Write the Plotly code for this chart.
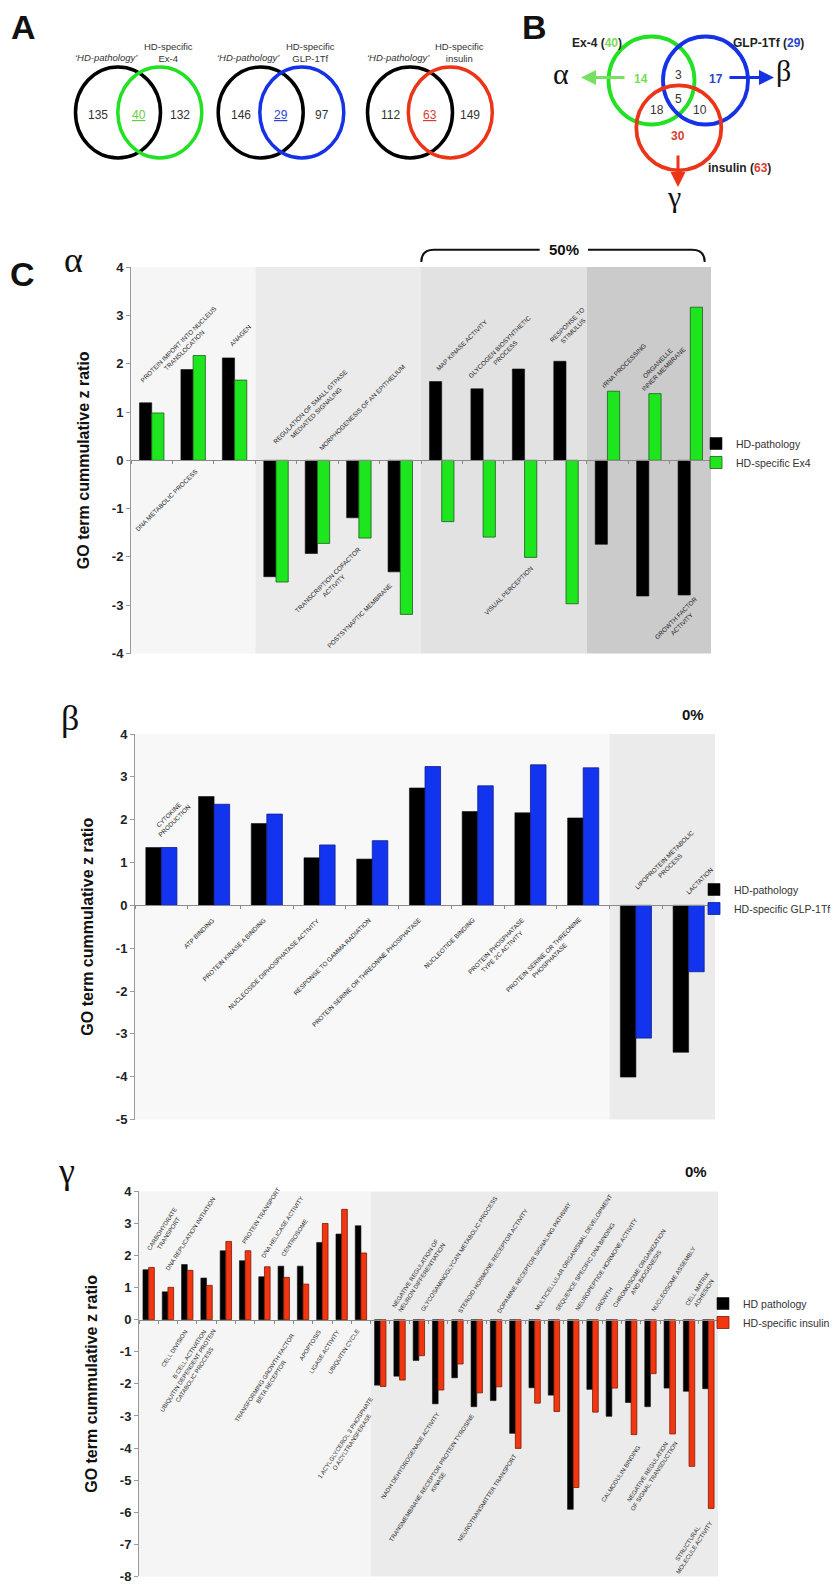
import plotly.graph_objects as go

W, H = 840, 1590


def fx(p):
    return p / W


def fy(p):
    return 1 - p / H


# ---------------- data ----------------
alpha_terms = [
    "PROTEIN IMPORT INTO NUCLEUS<br>TRANSLOCATION", "DNA METABOLIC PROCESS", "ANAGEN",
    "REGULATION OF SMALL GTPASE<br>MEDIATED SIGNALING", "MORPHOGENESIS OF AN EPITHELIUM",
    "TRANSCRIPTION COFACTOR<br>ACTIVITY", "POSTSYNAPTIC MEMBRANE",
    "MAP KINASE ACTIVITY", "GLYCOGEN BIOSYNTHETIC<br>PROCESS", "VISUAL PERCEPTION",
    "RESPONSE TO<br>STIMULUS", "rRNA PROCESSING", "ORGANELLE<br>INNER MEMBRANE",
    "GROWTH FACTOR<br>ACTIVITY",
]
alpha_hd_pathology = [1.19, 1.88, 2.12, -2.41, -1.93, -1.19, -2.31, 1.63, 1.48, 1.89, 2.05, -1.74, -2.81, -2.79]
alpha_hd_ex4 = [0.98, 2.17, 1.66, -2.52, -1.72, -1.61, -3.19, -1.27, -1.59, -2.01, -2.97, 1.43, 1.38, 3.17]

beta_terms = [
    "CYTOKINE<br>PRODUCTION", "ATP BINDING", "PROTEIN KINASE A BINDING",
    "NUCLEOSIDE DIPHOSPHATASE ACTIVITY", "RESPONSE TO GAMMA RADIATION",
    "PROTEIN SERINE OR THREONINE PHOSPHATASE", "NUCLEOTIDE BINDING",
    "PROTEIN PHOSPHATASE<br>TYPE 2C ACTIVITY", "PROTEIN SERINE OR THREONINE<br>PHOSPHATASE",
    "LIPOPROTEIN METABOLIC<br>PROCESS", "LACTATION",
]
beta_hd_pathology = [1.35, 2.54, 1.91, 1.11, 1.08, 2.74, 2.19, 2.16, 2.04, -4.01, -3.43]
beta_hd_glp1tf = [1.35, 2.36, 2.13, 1.41, 1.51, 3.24, 2.79, 3.28, 3.21, -3.10, -1.55]

gamma_terms = [
    "CARBOHYDRATE<br>TRANSPORT", "DNA REPLICATION INITIATION", "CELL DIVISION", "B CELL ACTIVATION",
    "UBIQUITIN DEPENDENT PROTEIN<br>CATABOLIC PROCESS", "PROTEIN TRANSPORT", "DNA HELICASE ACTIVITY",
    "CENTROSOME", "TRANSFORMING GROWTH FACTOR<br>BETA RECEPTOR", "APOPTOSIS", "LIGASE ACTIVITY",
    "UBIQUITIN CYCLE", "1 ACYLGLYCEROL 3 PHOSPHATE<br>O ACYLTRANSFERASE",
    "NEGATIVE REGULATION OF<br>NEURON DIFFERENTIATION", "GLYCOSAMINOGLYCAN METABOLIC PROCESS",
    "NADH DEHYDROGENASE ACTIVITY", "STEROID HORMONE RECEPTOR ACTIVITY",
    "TRANSMEMBRANE RECEPTOR PROTEIN TYROSINE<br>KINASE", "DOPAMINE RECEPTOR SIGNALING PATHWAY",
    "NEUROTRANSMITTER TRANSPORT", "MULTICELLULAR ORGANISMAL DEVELOPMENT",
    "SEQUENCE SPECIFIC DNA BINDING", "NEUROPEPTIDE HORMONE ACTIVITY", "GROWTH",
    "CHROMOSOME ORGANIZATION<br>AND BIOGENESIS", "CALMODULIN BINDING", "NUCLEOSOME ASSEMBLY",
    "NEGATIVE REGULATION<br>OF SIGNAL TRANSDUCTION", "CELL MATRIX<br>ADHESION",
    "STRUCTURAL<br>MOLECULE ACTIVITY",
]
gamma_hd_pathology = [1.56, 0.87, 1.72, 1.30, 2.15, 1.84, 1.34, 1.67, 1.67, 2.41, 2.67, 2.93,
                      -2.04, -1.76, -1.27, -2.62, -1.81, -2.71, -2.52, -3.54, -2.12, -2.35, -5.91,
                      -2.17, -3.01, -2.58, -2.71, -2.13, -2.23, -2.15]
gamma_hd_insulin = [1.63, 1.01, 1.54, 1.07, 2.44, 2.15, 1.65, 1.32, 1.11, 3.00, 3.44, 2.08,
                    -2.08, -1.88, -1.12, -2.19, -1.38, -2.28, -2.09, -4.01, -2.60, -2.86, -5.23,
                    -2.88, -2.13, -3.58, -1.68, -3.56, -4.57, -5.88]

# Venn counts (panel A)
venn_names = ["Ex-4", "GLP-1Tf", "insulin"]
venn_pathology_only = [135, 146, 112]
venn_shared = [40, 29, 63]
venn_specific_only = [132, 97, 149]
# Venn counts (panel B)
venn_b_totals = [40, 29, 63]
venn_b_regions = [14, 3, 17, 5, 18, 10, 30]  # Ex4 only, Ex4&GLP, GLP only, all, Ex4&ins, GLP&ins, ins only

# ---------------- label placement (layout) ----------------
alpha_lab_side = ['a', 'b', 'a', 'a', 'a', 'b', 'b', 'a', 'a', 'b', 'a', 'a', 'a', 'b']
alpha_lab_dx = [-16, 7.6, -9.3, -7, -2.7, 11.8, -4.6, -9.4, -19, 12.7, -20.3, -10, -17, 16.7]
alpha_lab_y = [1.41, -0.10, 2.27, 0.15, 0.12, -1.71, -2.45, 1.77, 1.50, -2.11, 2.24, 1.41, 1.36, -2.73]

beta_lab_side = ['a', 'b', 'b', 'b', 'b', 'b', 'b', 'b', 'b', 'a', 'a']
beta_lab_dx = [-13.4, 3.9, 2.9, 4.5, 2.4, -0.3, 1.9, 3.5, 7.5, -5.3, -6.7]
beta_lab_y = [1.51, -0.2, -0.2, -0.2, -0.2, -0.2, -0.18, -0.2, -0.18, 0.15, 0.17]

gamma_lab_side = ['a', 'a', 'b', 'b', 'b', 'a', 'a', 'a', 'b', 'b', 'b', 'b', 'b', 'a', 'a',
                  'b', 'a', 'b', 'a', 'b', 'a', 'a', 'a', 'a', 'a', 'b', 'a', 'b', 'a', 'b']
gamma_lab_dx = [-5.6, -6, 4.7, 4, 0.5, -7, -7, -6.4, 1.6, 3, 1.3, 2, 3.4, -12, -2,
                4.8, -3.5, 8, -3, 5.3, -4, -2.6, -1.3, -1.2, -2.2, 12.9, -3, 12.3, -7.7, 8]
gamma_lab_y = [1.92, 1.40, -0.19, -0.19, -0.19, 2.24, 1.82, 1.85, -0.31, -0.2, -0.2, -0.19,
               -2.29, 0.11, 0.16, -2.77, 0.10, -2.84, 0.07, -4.08, 0.16, 0.16, 0.17, 0.16,
               0.13, -3.81, 0.15, -3.56, 0.19, -6.06]

FONT = "Liberation Sans, Arial, sans-serif"
SERIF = "Liberation Serif, Times New Roman, serif"

fig = go.Figure()
shapes = []
annotations = []
layout_extra = {}


def add_panel(n, terms, v1, v2, name1, name2, c2, e2, xl, xr, ytop, ybot, yrange, sections,
              lab_side, lab_dx, lab_y, angle, lab_size, legend_xy):
    xa = 'x' if n == 1 else 'x%d' % n
    ya = 'y' if n == 1 else 'y%d' % n
    leg = 'legend' if n == 1 else 'legend%d' % n
    fig.add_trace(go.Bar(x=terms, y=v1, name=name1, xaxis=xa, yaxis=ya, legend=leg,
                         marker=dict(color='#000000', line=dict(color='#111111', width=0.6))))
    fig.add_trace(go.Bar(x=terms, y=v2, name=name2, xaxis=xa, yaxis=ya, legend=leg,
                         marker=dict(color=c2, line=dict(color=e2, width=0.8))))
    ydom = [fy(ybot), fy(ytop)]
    zero = ydom[0] + (0 - yrange[0]) / (yrange[1] - yrange[0]) * (ydom[1] - ydom[0])
    xkey = 'xaxis' if n == 1 else 'xaxis%d' % n
    ykey = 'yaxis' if n == 1 else 'yaxis%d' % n
    layout_extra[xkey] = dict(
        domain=[fx(xl), fx(xr)], anchor='free', position=zero, type='category',
        range=[-0.5, len(terms) - 0.5], showline=True, linecolor='#8a8a8a', linewidth=1,
        ticks='outside', ticklen=3, tickcolor='#8a8a8a', tickson='boundaries',
        showticklabels=False, showgrid=False, zeroline=False, fixedrange=True)
    tv = list(range(int(yrange[0]), int(yrange[1]) + 1))
    layout_extra[ykey] = dict(
        domain=ydom, anchor=xa, range=yrange, tickvals=tv, ticktext=[str(t) for t in tv],
        showline=True, linecolor='#9a9a9a', linewidth=1, ticks='outside', ticklen=4,
        tickcolor='#9a9a9a', showgrid=False, zeroline=False,
        tickfont=dict(family=FONT, size=13, color='#222222', weight='bold'),
        title=dict(text='<b>GO term cummulative z ratio</b>', standoff=18,
                   font=dict(family=FONT, size=16, color='#111111')))
    for (a, b, col) in sections:
        shapes.append(dict(type='rect', xref=xa, yref=ya + ' domain', x0=a - 0.5, x1=b - 0.5,
                           y0=0, y1=1, fillcolor=col, line=dict(width=0), layer='below'))
    for i, t in enumerate(terms):
        above = lab_side[i] == 'a'
        annotations.append(dict(
            xref=xa, yref=ya, x=t, y=lab_y[i], xshift=lab_dx[i], text=t, showarrow=False,
            textangle=angle, xanchor='left' if above else 'right',
            yanchor='bottom' if above else 'top',
            font=dict(family=FONT, size=lab_size, color='#222222')))
    layout_extra[leg] = dict(
        x=fx(legend_xy[0]), y=fy(legend_xy[1]), xanchor='left', yanchor='top',
        bgcolor='rgba(0,0,0,0)', font=dict(family=FONT, size=10.5, color='#333333'),
        tracegroupgap=0, itemwidth=30)


add_panel(1, alpha_terms, alpha_hd_pathology, alpha_hd_ex4, 'HD-pathology', 'HD-specific Ex4',
          '#1ee61e', '#1f5a1f', 123, 703, 259.1, 645.5, [-4, 4],
          [(0, 3, '#f6f6f6'), (3, 7, '#ebebeb'), (7, 11, '#e2e2e2'), (11, 14, '#cbcbcb')],
          alpha_lab_side, alpha_lab_dx, alpha_lab_y, -45, 6.4, (688, 421))
add_panel(2, beta_terms, beta_hd_pathology, beta_hd_glp1tf, 'HD-pathology', 'HD-specific GLP-1Tf',
          '#1234ee', '#10208a', 127, 707, 726, 1111.5, [-5, 4],
          [(0, 9, '#f8f8f8'), (9, 11, '#ebebeb')],
          beta_lab_side, beta_lab_dx, beta_lab_y, -45, 6.3, (686, 867))
add_panel(3, gamma_terms, gamma_hd_pathology, gamma_hd_insulin, 'HD pathology', 'HD-specific insulin',
          '#f2360f', '#7a1a08', 131, 710, 1183.4, 1568.4, [-8, 4],
          [(0, 12, '#f5f5f5'), (12, 30, '#ebebeb')],
          gamma_lab_side, gamma_lab_dx, gamma_lab_y, -57, 6.0, (695, 1281))


def text(x, y, s, size, color='#111111', family=FONT, xanchor='center', yanchor='middle'):
    annotations.append(dict(xref='paper', yref='paper', x=fx(x), y=fy(y), text=s, showarrow=False,
                            xanchor=xanchor, yanchor=yanchor,
                            font=dict(family=family, size=size, color=color)))


def circle(cx, cy, rx, ry, color, width=3.5):
    shapes.append(dict(type='circle', xref='paper', yref='paper', x0=fx(cx - rx), x1=fx(cx + rx),
                       y0=fy(cy + ry), y1=fy(cy - ry), line=dict(color=color, width=width)))


# ---------------- panel letters ----------------
text(15, 19, '<b>A</b>', 34)
text(526, 19, '<b>B</b>', 34)
text(14, 266, '<b>C</b>', 34)

# ---------------- panel A venns ----------------
venn_colors = ['#22e022', '#1532e6', '#ec3418']
venn_text_colors = ['#66cc44', '#2a46d0', '#d84030']
black_cx = [110, 252.7, 402]
spec_cx = [151.8, 293.8, 442.3]
for i in range(3):
    circle(black_cx[i], 104.4, 42.5, 45.5, '#000000')
    circle(spec_cx[i], 104.4, 42, 45.5, venn_colors[i])
    text(black_cx[i] - 20, 106.5, str(venn_pathology_only[i]), 12, '#333333')
    text((black_cx[i] + spec_cx[i]) / 2, 106.5,
         "<span style='text-decoration:underline'>%d</span>" % venn_shared[i], 12, venn_text_colors[i])
    text(spec_cx[i] + 20, 106.5, str(venn_specific_only[i]), 12, '#333333')
    text(black_cx[i] - 12, 50, '<i>\u2018HD-pathology\u2019</i>', 9.5, '#333333')
    text(spec_cx[i] + 9, 45, 'HD-specific<br>' + venn_names[i], 9.5, '#333333')

# ---------------- panel B triple venn ----------------
circle(643.5, 72.5, 43, 44, '#22e022', 3.8)
circle(697.5, 72.5, 42.5, 44, '#1532e6', 3.8)
circle(670.8, 119.8, 42.5, 42.5, '#ec3418', 3.8)
text(589, 35, "<b>Ex-4 (<span style='color:#7ed860'>%d</span>)</b>" % venn_b_totals[0], 12, '#222222')
text(760, 35, "<b>GLP-1Tf (<span style='color:#2a46d0'>%d</span>)</b>" % venn_b_totals[1], 12, '#222222')
text(731, 160, "<b>insulin (<span style='color:#d84030'>%d</span>)</b>" % venn_b_totals[2], 12, '#222222')
text(632.7, 71, '<b>%d</b>' % venn_b_regions[0], 12, '#77dd55')
text(670.3, 66.7, str(venn_b_regions[1]), 12, '#333333')
text(708.3, 71, '<b>%d</b>' % venn_b_regions[2], 12, '#2a46d0')
text(670.3, 91, str(venn_b_regions[3]), 12, '#333333')
text(649.3, 102, str(venn_b_regions[4]), 12, '#333333')
text(691.7, 102, str(venn_b_regions[5]), 12, '#333333')
text(670.3, 127.7, '<b>%d</b>' % venn_b_regions[6], 12, '#d84030')
for (hx, hy, ax, ay, col) in [(573, 69.5, 45, 0, '#77e060'), (766, 69.5, -46, 0, '#1532e6'),
                              (670, 179, 0, -33, '#ec3418')]:
    annotations.append(dict(xref='paper', yref='paper', x=fx(hx), y=fy(hy), ax=ax, ay=ay, text='',
                            showarrow=True, arrowhead=2, arrowsize=1, arrowwidth=3, arrowcolor=col))
text(553, 66, '\u03b1', 30, '#111111', SERIF)
text(775, 63, '\u03b2', 30, '#111111', SERIF)
text(666, 189, '\u03b3', 30, '#111111', SERIF)

# ---------------- panel C decorations ----------------
text(65, 252, '\u03b1', 36, '#111111', SERIF)
text(62, 710, '\u03b2', 36, '#111111', SERIF)
text(58, 1163, '\u03b3', 36, '#111111', SERIF)
text(556, 242, '<b>50%</b>', 15, '#111111')
text(685, 706, '<b>0%</b>', 15, '#111111')
text(688, 1163, '<b>0%</b>', 15, '#111111')


def P(x, y):
    return '%f,%f' % (fx(x), fy(y))


bracket = ('M ' + P(413.3, 254) + ' Q ' + P(413.3, 241.7) + ' ' + P(426, 241.7) + ' L ' + P(531.7, 241.7) +
           ' M ' + P(580, 241.7) + ' L ' + P(684, 241.7) + ' Q ' + P(696.7, 241.7) + ' ' + P(696.7, 254))
shapes.append(dict(type='path', xref='paper', yref='paper', path=bracket,
                   line=dict(color='#111111', width=2)))

fig.update_layout(
    width=W, height=H, margin=dict(l=0, r=0, t=0, b=0, autoexpand=False),
    paper_bgcolor='white', plot_bgcolor='rgba(0,0,0,0)',
    barmode='group', bargap=0.41, bargroupgap=0,
    shapes=shapes, annotations=annotations, showlegend=True,
    font=dict(family=FONT),
    **layout_extra,
)
fig.write_html('out.html')
